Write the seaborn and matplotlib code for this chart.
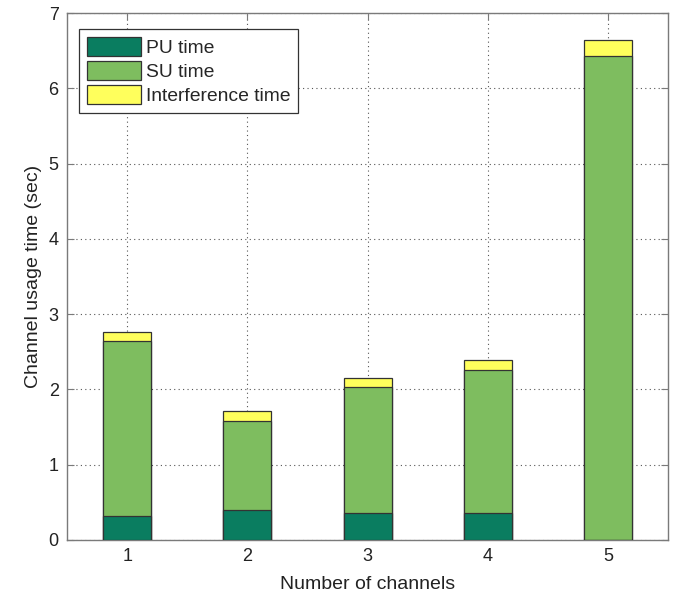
import matplotlib
matplotlib.use("Agg")
import matplotlib.pyplot as plt
from matplotlib.patches import Patch
import numpy as np
import pandas as pd
import seaborn as sns

# ---- data ----
channels = [1, 2, 3, 4, 5]
pu_time = [0.32, 0.40, 0.355, 0.355, 0.0]
su_time = [2.325, 1.175, 1.68, 1.90, 6.43]
interference_time = [0.125, 0.135, 0.12, 0.135, 0.215]
series_labels = ["PU time", "SU time", "Interference time"]
y_ticks = [0, 1, 2, 3, 4, 5, 6, 7]

colors = ["#0a7d60", "#7ebd5f", "#ffff5c"]

sns.set_theme(style="white")
plt.rcParams["font.family"] = ["Liberation Sans", "DejaVu Sans"]

pu = np.array(pu_time)
su = np.array(su_time)
it = np.array(interference_time)

df = pd.DataFrame({
    "channel": [str(c) for c in channels],
    "pu": pu,
    "pu_su": pu + su,
    "total": pu + su + it,
})

fig = plt.figure(figsize=(6.77, 5.99), dpi=100)
ax = fig.add_axes([0.099, 0.0985, 0.888, 0.8795])

edge = "#333333"
for col, c in [("total", colors[2]), ("pu_su", colors[1]), ("pu", colors[0])]:
    sns.barplot(data=df, x="channel", y=col, color=c, width=0.4,
                edgecolor=edge, linewidth=0.9, saturation=1, ax=ax, zorder=3)

ax.set_xlim(-0.5, 4.5)
ax.set_ylim(0, 7)
ax.set_yticks(y_ticks)
ax.set_yticklabels([str(v) for v in y_ticks])
ax.set_xticks(range(len(channels)))
ax.set_xticklabels([str(c) for c in channels])

ax.set_axisbelow(True)
ax.grid(True, linestyle=(0, (1, 3)), color="#555555", linewidth=0.8)

for s in ax.spines.values():
    s.set_visible(True)
    s.set_color("#7a7a7a")
    s.set_linewidth(1.0)

ax.tick_params(direction="in", length=5, width=0.8, color="#7a7a7a",
               top=True, right=True, bottom=True, left=True,
               labelsize=13, labelcolor="#222222", pad=6)

ax.set_xlabel("Number of channels", fontsize=14, color="#222222", labelpad=8)
ax.set_ylabel("Channel usage time (sec)", fontsize=14, color="#222222", labelpad=5)

handles = [Patch(facecolor=c, edgecolor=edge, linewidth=0.9) for c in colors]
leg = ax.legend(handles, series_labels, loc="upper left",
                bbox_to_anchor=(0.02, 0.9696), fontsize=13.9, frameon=True,
                fancybox=False, edgecolor="#333333", framealpha=1,
                handlelength=2.8, handleheight=1.15, handletextpad=0.28,
                labelspacing=0.2, borderpad=0.4, borderaxespad=0)
leg.get_frame().set_linewidth(0.9)

fig.savefig("out.png", dpi=100)
